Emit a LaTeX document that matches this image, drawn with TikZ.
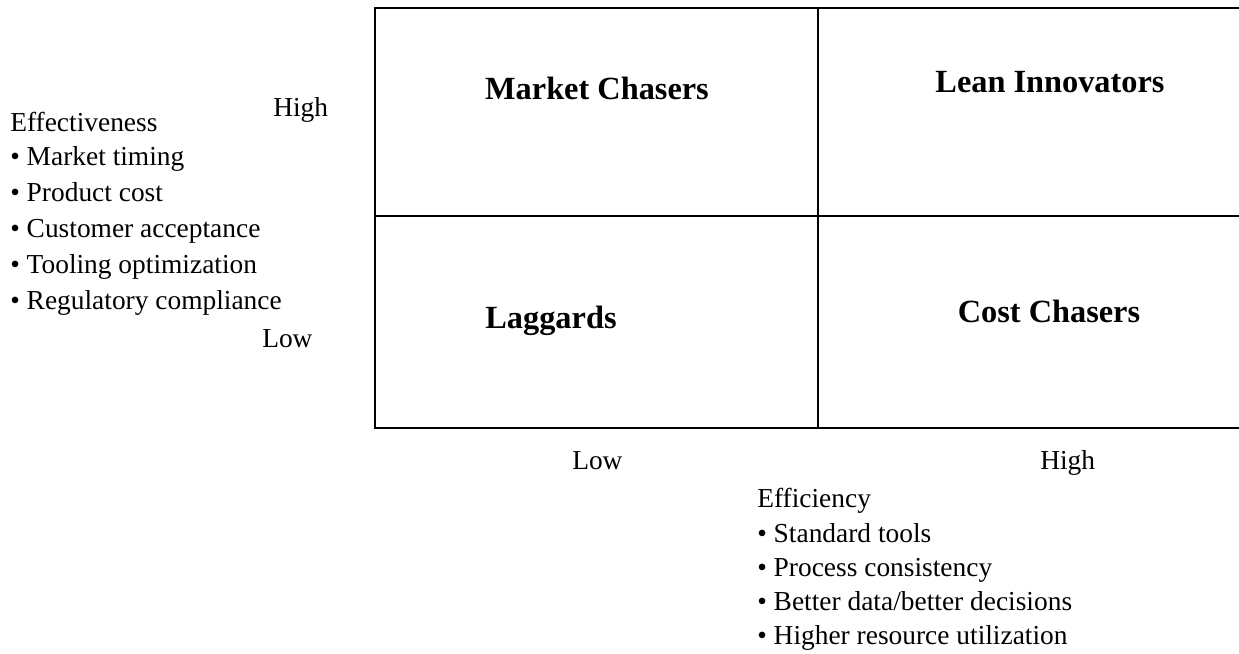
\documentclass[tikz,border=0pt]{standalone}
\usepackage{fontspec}
\setmainfont{Liberation Serif}
\usepackage{tikz}

\tikzset{
  quadlabel/.style={font=\fontsize{23}{26}\selectfont\bfseries, inner sep=0cm, anchor=base},
  axistext/.style={font=\fontsize{19.5}{23}\selectfont, inner sep=0cm, anchor=base west},
  gridline/.style={line width=0.05cm, black}
}

\begin{document}
\begin{tikzpicture}
\useasboundingbox (0,0) rectangle (30.975,-16.35);

% the 2x2 frame, open to the right
\draw[gridline] (31.2,-0.2) -- (9.375,-0.2) -- (9.375,-10.7) -- (31.2,-10.7);
\draw[gridline] (20.45,-0.2) -- (20.45,-10.7);
\draw[gridline] (9.375,-5.4) -- (31.2,-5.4);

\node[quadlabel] (chasers) at (14.925,-2.5) {Market Chasers};
\node[quadlabel] (lean) at (26.25,-2.325) {Lean Innovators};
\node[quadlabel] (laggards) at (13.775,-8.225) {Laggards};
\node[quadlabel] (cost) at (26.225,-8.075) {Cost Chasers};

% effectiveness axis
\node[axistext] (effhigh) at (6.825,-2.925) {High};
\node[axistext] (efflow) at (6.55,-8.7) {Low};
\node[axistext] (effect) at (0.25,-3.3) {Effectiveness};
\node[axistext] (eff1) at (0.25,-4.15) {• Market timing};
\node[axistext] (eff2) at (0.25,-5.05) {• Product cost};
\node[axistext] (eff3) at (0.25,-5.95) {• Customer acceptance};
\node[axistext] (eff4) at (0.25,-6.85) {• Tooling optimization};
\node[axistext] (eff5) at (0.25,-7.75) {• Regulatory compliance};

% efficiency axis
\node[axistext] (efflowx) at (14.3,-11.75) {Low};
\node[axistext] (effhighx) at (26.0,-11.75) {High};
\node[axistext] (effic) at (18.925,-12.7) {Efficiency};
\node[axistext] (effic1) at (18.925,-13.55) {• Standard tools};
\node[axistext] (effic2) at (18.925,-14.4) {• Process consistency};
\node[axistext] (effic3) at (18.925,-15.25) {• Better data/better decisions};
\node[axistext] (effic4) at (18.925,-16.1) {• Higher resource utilization};
\end{tikzpicture}
\end{document}
